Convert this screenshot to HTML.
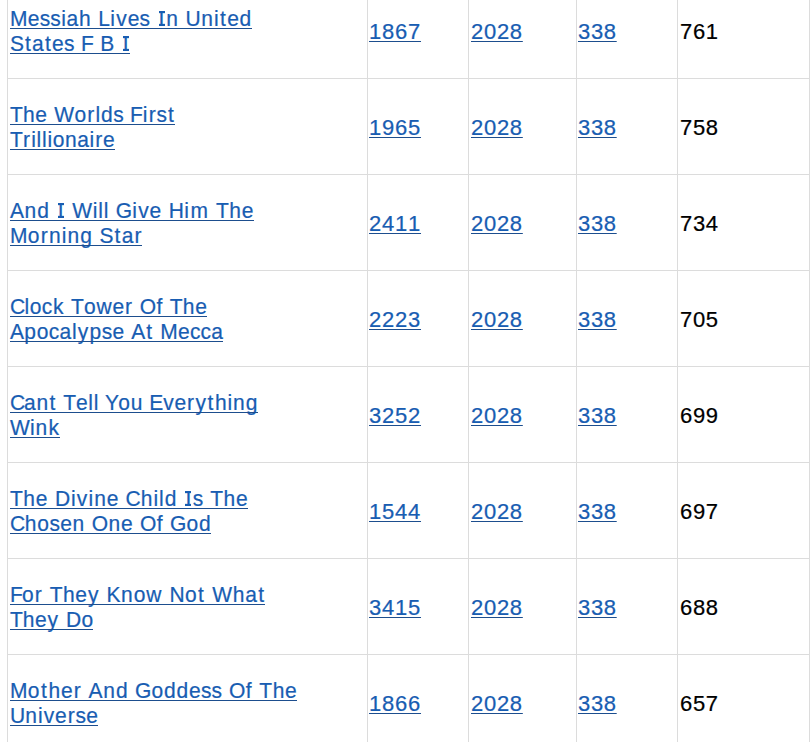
<!DOCTYPE html>
<html><head><meta charset="utf-8"><style>
html,body{margin:0;padding:0;background:#fff;width:811px;height:742px;overflow:hidden;position:relative}
body{font-family:"Liberation Sans",sans-serif;font-size:21px;font-kerning:none}
.h{position:absolute;left:7px;width:803px;height:1px;background:#dcdcdc}
.v{position:absolute;top:0;height:742px;width:1px;background:#dcdcdc}
.t,.k{position:absolute;white-space:nowrap;line-height:25px}
.t{color:#185db2;-webkit-text-stroke:0.22px #185db2;text-decoration:underline;text-decoration-color:#1d4e8e;text-decoration-thickness:1px;text-underline-offset:2px}
.n{font-size:22px}
.tt{text-decoration:none;transform:scaleY(1.07);transform-origin:0 20px}
.u{position:absolute;height:1px;background:#1d4e8e}
.I{position:relative}
.I::before,.I::after{content:'';position:absolute;left:0px;width:6px;height:2px;background:currentColor}
.I::before{top:5px}.I::after{top:17px}
.k{color:#000;-webkit-text-stroke:0.22px #000}
</style></head><body>

<div class="h" style="top:78px"></div>
<div class="h" style="top:174px"></div>
<div class="h" style="top:270px"></div>
<div class="h" style="top:366px"></div>
<div class="h" style="top:462px"></div>
<div class="h" style="top:558px"></div>
<div class="h" style="top:654px"></div>
<div class="v" style="left:7px"></div>
<div class="v" style="left:367px"></div>
<div class="v" style="left:468px"></div>
<div class="v" style="left:576px"></div>
<div class="v" style="left:677px"></div>
<div class="v" style="left:809px"></div>
<div class="t tt" style="left:10px;top:6px"><span style="letter-spacing:0.22px">M</span><span style="letter-spacing:0.24px">e</span><span style="letter-spacing:0.07px">s</span><span style="letter-spacing:0.49px">s</span><span style="letter-spacing:0.70px">i</span><span style="letter-spacing:0.83px">a</span><span style="letter-spacing:1.23px">h</span><span style="letter-spacing:0.46px">&nbsp;</span><span style="letter-spacing:0.26px">L</span><span style="letter-spacing:1.20px">i</span><span style="letter-spacing:0.96px">v</span><span style="letter-spacing:0.24px">e</span><span style="letter-spacing:0.68px">s</span><span style="letter-spacing:2.00px">&nbsp;</span><span class="I" style="letter-spacing:1.93px">I</span><span style="letter-spacing:1.23px">n</span><span style="letter-spacing:0.49px">&nbsp;</span><span style="letter-spacing:0.42px">U</span><span style="letter-spacing:1.03px">n</span><span style="letter-spacing:1.53px">i</span><span style="letter-spacing:1.28px">t</span><span style="letter-spacing:0.68px">e</span><span style="letter-spacing:0.48px">d</span></div>
<div class="u" style="left:10px;top:28px;width:242px"></div>
<div class="t tt" style="left:10px;top:31px"><span style="letter-spacing:0.88px">S</span><span style="letter-spacing:1.29px">t</span><span style="letter-spacing:1.29px">a</span><span style="letter-spacing:1.24px">t</span><span style="letter-spacing:0.19px">e</span><span style="letter-spacing:0.65px">s</span><span style="letter-spacing:0.04px">&nbsp;</span><span style="letter-spacing:0.04px">F</span><span style="letter-spacing:0.57px">&nbsp;</span><span style="letter-spacing:0.57px">B</span><span style="letter-spacing:1.97px">&nbsp;</span><span class="I" style="letter-spacing:1.34px">I</span></div>
<div class="u" style="left:10px;top:53px;width:120px"></div>
<div class="t n" style="left:369px;top:19px;letter-spacing:0.766px">1867</div>
<div class="t n" style="left:471px;top:19px;letter-spacing:0.716px">2028</div>
<div class="t n" style="left:578px;top:19px;letter-spacing:0.666px">338</div>
<div class="k n" style="left:680px;top:19px;letter-spacing:0.666px">761</div>
<div class="t tt" style="left:10px;top:102px"><span style="letter-spacing:0.13px">T</span><span style="letter-spacing:0.69px">h</span><span style="letter-spacing:0.78px">e</span><span style="letter-spacing:0.67px">&nbsp;</span><span style="letter-spacing:0.32px">W</span><span style="letter-spacing:1.07px">o</span><span style="letter-spacing:1.23px">r</span><span style="letter-spacing:0.87px">l</span><span style="letter-spacing:0.43px">d</span><span style="letter-spacing:0.62px">s</span><span style="letter-spacing:0.01px">&nbsp;</span><span style="letter-spacing:-0.18px">F</span><span style="letter-spacing:1.23px">i</span><span style="letter-spacing:0.80px">r</span><span style="letter-spacing:1.05px">s</span><span style="letter-spacing:1.05px">t</span></div>
<div class="u" style="left:10px;top:124px;width:165px"></div>
<div class="t tt" style="left:10px;top:127px"><span style="letter-spacing:0.16px">T</span><span style="letter-spacing:1.13px">r</span><span style="letter-spacing:0.78px">i</span><span style="letter-spacing:0.78px">l</span><span style="letter-spacing:0.78px">l</span><span style="letter-spacing:0.58px">i</span><span style="letter-spacing:0.63px">o</span><span style="letter-spacing:0.56px">n</span><span style="letter-spacing:0.51px">a</span><span style="letter-spacing:1.13px">i</span><span style="letter-spacing:0.81px">r</span><span style="letter-spacing:0.07px">e</span></div>
<div class="u" style="left:10px;top:149px;width:105px"></div>
<div class="t n" style="left:369px;top:115px;letter-spacing:0.766px">1965</div>
<div class="t n" style="left:471px;top:115px;letter-spacing:0.716px">2028</div>
<div class="t n" style="left:578px;top:115px;letter-spacing:0.666px">338</div>
<div class="k n" style="left:680px;top:115px;letter-spacing:0.666px">758</div>
<div class="t tt" style="left:10px;top:198px"><span style="letter-spacing:0.43px">A</span><span style="letter-spacing:1.05px">n</span><span style="letter-spacing:1.12px">d</span><span style="letter-spacing:1.99px">&nbsp;</span><span class="I" style="letter-spacing:1.99px">I</span><span style="letter-spacing:0.75px">&nbsp;</span><span style="letter-spacing:0.56px">W</span><span style="letter-spacing:0.90px">i</span><span style="letter-spacing:0.90px">l</span><span style="letter-spacing:1.09px">l</span><span style="letter-spacing:0.37px">&nbsp;</span><span style="letter-spacing:0.17px">G</span><span style="letter-spacing:1.19px">i</span><span style="letter-spacing:0.94px">v</span><span style="letter-spacing:0.84px">e</span><span style="letter-spacing:0.68px">&nbsp;</span><span style="letter-spacing:0.48px">H</span><span style="letter-spacing:1.56px">i</span><span style="letter-spacing:1.75px">m</span><span style="letter-spacing:0.48px">&nbsp;</span><span style="letter-spacing:0.41px">T</span><span style="letter-spacing:0.77px">h</span><span style="letter-spacing:0.20px">e</span></div>
<div class="u" style="left:10px;top:220px;width:244px"></div>
<div class="t tt" style="left:10px;top:223px"><span style="letter-spacing:0.33px">M</span><span style="letter-spacing:1.15px">o</span><span style="letter-spacing:1.41px">r</span><span style="letter-spacing:1.03px">n</span><span style="letter-spacing:1.03px">i</span><span style="letter-spacing:1.06px">n</span><span style="letter-spacing:1.13px">g</span><span style="letter-spacing:0.58px">&nbsp;</span><span style="letter-spacing:1.01px">S</span><span style="letter-spacing:1.33px">t</span><span style="letter-spacing:1.08px">a</span><span style="letter-spacing:0.83px">r</span></div>
<div class="u" style="left:10px;top:245px;width:132px"></div>
<div class="t n" style="left:369px;top:211px;letter-spacing:0.766px">2411</div>
<div class="t n" style="left:471px;top:211px;letter-spacing:0.716px">2028</div>
<div class="t n" style="left:578px;top:211px;letter-spacing:0.666px">338</div>
<div class="k n" style="left:680px;top:211px;letter-spacing:0.666px">734</div>
<div class="t tt" style="left:10px;top:294px"><span style="letter-spacing:-0.70px">C</span><span style="letter-spacing:0.69px">l</span><span style="letter-spacing:0.25px">o</span><span style="letter-spacing:0.68px">c</span><span style="letter-spacing:1.31px">k</span><span style="letter-spacing:0.40px">&nbsp;</span><span style="letter-spacing:0.04px">T</span><span style="letter-spacing:0.90px">o</span><span style="letter-spacing:0.79px">w</span><span style="letter-spacing:0.94px">e</span><span style="letter-spacing:1.41px">r</span><span style="letter-spacing:0.36px">&nbsp;</span><span style="letter-spacing:0.36px">O</span><span style="letter-spacing:1.23px">f</span><span style="letter-spacing:0.40px">&nbsp;</span><span style="letter-spacing:0.31px">T</span><span style="letter-spacing:0.67px">h</span><span style="letter-spacing:0.15px">e</span></div>
<div class="u" style="left:10px;top:316px;width:197px"></div>
<div class="t tt" style="left:10px;top:319px"><span style="letter-spacing:0.30px">A</span><span style="letter-spacing:0.77px">p</span><span style="letter-spacing:0.33px">o</span><span style="letter-spacing:0.26px">c</span><span style="letter-spacing:0.68px">a</span><span style="letter-spacing:1.18px">l</span><span style="letter-spacing:1.21px">y</span><span style="letter-spacing:0.49px">p</span><span style="letter-spacing:0.21px">s</span><span style="letter-spacing:0.83px">e</span><span style="letter-spacing:0.56px">&nbsp;</span><span style="letter-spacing:0.99px">A</span><span style="letter-spacing:1.71px">t</span><span style="letter-spacing:0.63px">&nbsp;</span><span style="letter-spacing:0.17px">M</span><span style="letter-spacing:0.21px">e</span><span style="letter-spacing:0.05px">c</span><span style="letter-spacing:0.26px">c</span><span style="letter-spacing:0.23px">a</span></div>
<div class="u" style="left:10px;top:341px;width:213px"></div>
<div class="t n" style="left:369px;top:307px;letter-spacing:0.766px">2223</div>
<div class="t n" style="left:471px;top:307px;letter-spacing:0.716px">2028</div>
<div class="t n" style="left:578px;top:307px;letter-spacing:0.666px">338</div>
<div class="k n" style="left:680px;top:307px;letter-spacing:0.666px">705</div>
<div class="t tt" style="left:10px;top:390px"><span style="letter-spacing:-1.07px">C</span><span style="letter-spacing:0.63px">a</span><span style="letter-spacing:1.50px">n</span><span style="letter-spacing:1.61px">t</span><span style="letter-spacing:0.34px">&nbsp;</span><span style="letter-spacing:-0.15px">T</span><span style="letter-spacing:0.52px">e</span><span style="letter-spacing:0.82px">l</span><span style="letter-spacing:1.00px">l</span><span style="letter-spacing:-0.27px">&nbsp;</span><span style="letter-spacing:-0.64px">Y</span><span style="letter-spacing:0.70px">o</span><span style="letter-spacing:1.07px">u</span><span style="letter-spacing:-0.09px">&nbsp;</span><span style="letter-spacing:-0.02px">E</span><span style="letter-spacing:0.77px">v</span><span style="letter-spacing:0.87px">e</span><span style="letter-spacing:1.42px">r</span><span style="letter-spacing:1.68px">y</span><span style="letter-spacing:1.50px">t</span><span style="letter-spacing:0.89px">h</span><span style="letter-spacing:0.89px">i</span><span style="letter-spacing:0.86px">n</span><span style="letter-spacing:0.38px">g</span></div>
<div class="u" style="left:10px;top:412px;width:248px"></div>
<div class="t tt" style="left:10px;top:415px"><span style="letter-spacing:0.25px">W</span><span style="letter-spacing:0.85px">i</span><span style="letter-spacing:1.09px">n</span><span style="letter-spacing:0.64px">k</span></div>
<div class="u" style="left:10px;top:437px;width:50px"></div>
<div class="t n" style="left:369px;top:403px;letter-spacing:0.766px">3252</div>
<div class="t n" style="left:471px;top:403px;letter-spacing:0.716px">2028</div>
<div class="t n" style="left:578px;top:403px;letter-spacing:0.666px">338</div>
<div class="k n" style="left:680px;top:403px;letter-spacing:0.666px">699</div>
<div class="t tt" style="left:10px;top:486px"><span style="letter-spacing:0.33px">T</span><span style="letter-spacing:0.83px">h</span><span style="letter-spacing:0.88px">e</span><span style="letter-spacing:0.92px">&nbsp;</span><span style="letter-spacing:0.72px">D</span><span style="letter-spacing:1.23px">i</span><span style="letter-spacing:1.23px">v</span><span style="letter-spacing:1.06px">i</span><span style="letter-spacing:0.83px">n</span><span style="letter-spacing:0.88px">e</span><span style="letter-spacing:0.19px">&nbsp;</span><span style="letter-spacing:0.13px">C</span><span style="letter-spacing:1.06px">h</span><span style="letter-spacing:0.92px">i</span><span style="letter-spacing:0.96px">l</span><span style="letter-spacing:1.16px">d</span><span style="letter-spacing:2.03px">&nbsp;</span><span class="I" style="letter-spacing:1.42px">I</span><span style="letter-spacing:0.71px">s</span><span style="letter-spacing:0.52px">&nbsp;</span><span style="letter-spacing:0.47px">T</span><span style="letter-spacing:0.83px">h</span><span style="letter-spacing:0.22px">e</span></div>
<div class="u" style="left:10px;top:508px;width:238px"></div>
<div class="t tt" style="left:10px;top:511px"><span style="letter-spacing:-0.42px">C</span><span style="letter-spacing:0.90px">h</span><span style="letter-spacing:0.35px">o</span><span style="letter-spacing:0.24px">s</span><span style="letter-spacing:0.78px">e</span><span style="letter-spacing:1.23px">n</span><span style="letter-spacing:0.47px">&nbsp;</span><span style="letter-spacing:0.40px">O</span><span style="letter-spacing:0.78px">n</span><span style="letter-spacing:0.85px">e</span><span style="letter-spacing:0.47px">&nbsp;</span><span style="letter-spacing:0.47px">O</span><span style="letter-spacing:1.30px">f</span><span style="letter-spacing:0.38px">&nbsp;</span><span style="letter-spacing:0.05px">G</span><span style="letter-spacing:0.80px">o</span><span style="letter-spacing:0.48px">d</span></div>
<div class="u" style="left:10px;top:533px;width:201px"></div>
<div class="t n" style="left:369px;top:499px;letter-spacing:0.766px">1544</div>
<div class="t n" style="left:471px;top:499px;letter-spacing:0.716px">2028</div>
<div class="t n" style="left:578px;top:499px;letter-spacing:0.666px">338</div>
<div class="k n" style="left:680px;top:499px;letter-spacing:0.666px">697</div>
<div class="t tt" style="left:10px;top:582px"><span style="letter-spacing:-0.84px">F</span><span style="letter-spacing:1.14px">o</span><span style="letter-spacing:1.47px">r</span><span style="letter-spacing:0.48px">&nbsp;</span><span style="letter-spacing:0.41px">T</span><span style="letter-spacing:0.77px">h</span><span style="letter-spacing:0.94px">e</span><span style="letter-spacing:1.39px">y</span><span style="letter-spacing:0.72px">&nbsp;</span><span style="letter-spacing:0.65px">K</span><span style="letter-spacing:0.88px">n</span><span style="letter-spacing:1.02px">o</span><span style="letter-spacing:1.35px">w</span><span style="letter-spacing:0.67px">&nbsp;</span><span style="letter-spacing:0.34px">N</span><span style="letter-spacing:1.39px">o</span><span style="letter-spacing:1.72px">t</span><span style="letter-spacing:0.75px">&nbsp;</span><span style="letter-spacing:0.68px">W</span><span style="letter-spacing:0.81px">h</span><span style="letter-spacing:1.32px">a</span><span style="letter-spacing:1.08px">t</span></div>
<div class="u" style="left:10px;top:604px;width:255px"></div>
<div class="t tt" style="left:10px;top:607px"><span style="letter-spacing:-0.01px">T</span><span style="letter-spacing:0.60px">h</span><span style="letter-spacing:0.78px">e</span><span style="letter-spacing:1.26px">y</span><span style="letter-spacing:0.71px">&nbsp;</span><span style="letter-spacing:0.35px">D</span><span style="letter-spacing:0.23px">o</span></div>
<div class="u" style="left:10px;top:629px;width:83px"></div>
<div class="t n" style="left:369px;top:595px;letter-spacing:0.766px">3415</div>
<div class="t n" style="left:471px;top:595px;letter-spacing:0.716px">2028</div>
<div class="t n" style="left:578px;top:595px;letter-spacing:0.666px">338</div>
<div class="k n" style="left:680px;top:595px;letter-spacing:0.666px">688</div>
<div class="t tt" style="left:10px;top:678px"><span style="letter-spacing:0.36px">M</span><span style="letter-spacing:1.41px">o</span><span style="letter-spacing:1.67px">t</span><span style="letter-spacing:0.80px">h</span><span style="letter-spacing:1.05px">e</span><span style="letter-spacing:1.49px">r</span><span style="letter-spacing:0.60px">&nbsp;</span><span style="letter-spacing:0.53px">A</span><span style="letter-spacing:1.08px">n</span><span style="letter-spacing:1.14px">d</span><span style="letter-spacing:0.39px">&nbsp;</span><span style="letter-spacing:0.07px">G</span><span style="letter-spacing:0.81px">o</span><span style="letter-spacing:0.98px">d</span><span style="letter-spacing:0.70px">d</span><span style="letter-spacing:0.25px">e</span><span style="letter-spacing:0.08px">s</span><span style="letter-spacing:0.69px">s</span><span style="letter-spacing:0.48px">&nbsp;</span><span style="letter-spacing:0.48px">O</span><span style="letter-spacing:1.31px">f</span><span style="letter-spacing:0.50px">&nbsp;</span><span style="letter-spacing:0.44px">T</span><span style="letter-spacing:0.80px">h</span><span style="letter-spacing:0.21px">e</span></div>
<div class="u" style="left:10px;top:700px;width:287px"></div>
<div class="t tt" style="left:10px;top:703px"><span style="letter-spacing:0.10px">U</span><span style="letter-spacing:0.96px">n</span><span style="letter-spacing:1.14px">i</span><span style="letter-spacing:0.87px">v</span><span style="letter-spacing:0.96px">e</span><span style="letter-spacing:0.80px">r</span><span style="letter-spacing:0.15px">s</span><span style="letter-spacing:0.16px">e</span></div>
<div class="u" style="left:10px;top:725px;width:88px"></div>
<div class="t n" style="left:369px;top:691px;letter-spacing:0.766px">1866</div>
<div class="t n" style="left:471px;top:691px;letter-spacing:0.716px">2028</div>
<div class="t n" style="left:578px;top:691px;letter-spacing:0.666px">338</div>
<div class="k n" style="left:680px;top:691px;letter-spacing:0.666px">657</div>
</body></html>
